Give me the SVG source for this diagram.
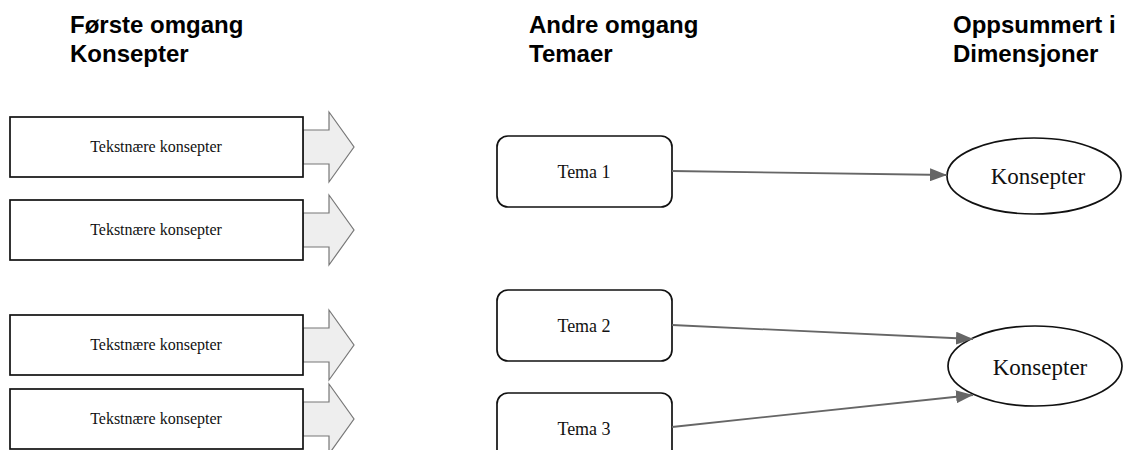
<svg xmlns="http://www.w3.org/2000/svg" width="1123" height="450" viewBox="0 0 1123 450">
<style>
.hdr{font-family:"Liberation Sans",Arial,sans-serif;font-weight:bold;font-size:24px;fill:#000}
.box{fill:#fff;stroke:#111;stroke-width:1.7}
.blk{fill:#eeeeee;stroke:#777;stroke-width:1.2}
.t16{font-family:"Liberation Serif","Times New Roman",serif;font-size:16px;fill:#111;text-anchor:middle}
.t18{font-family:"Liberation Serif","Times New Roman",serif;font-size:18px;fill:#111;text-anchor:middle}
.t23{font-family:"Liberation Serif","Times New Roman",serif;font-size:23px;fill:#111;text-anchor:middle}
.edge{stroke:#666;stroke-width:1.8;fill:none;marker-end:url(#ah)}
</style>
<defs>
<marker id="ah" markerWidth="17" markerHeight="13" refX="17" refY="6.5" orient="auto" markerUnits="userSpaceOnUse">
<path d="M0,0 L17,6.5 L0,13 z" fill="#666"/>
</marker>
</defs>
<rect width="1123" height="450" fill="#fff"/>
<g id="headers">
<text class="hdr" x="70" y="33">Første omgang</text>
<text class="hdr" x="70" y="62">Konsepter</text>
<text class="hdr" x="529" y="33">Andre omgang</text>
<text class="hdr" x="529" y="62">Temaer</text>
<text class="hdr" x="953" y="33">Oppsummert i</text>
<text class="hdr" x="953" y="62">Dimensjoner</text>
</g>
<g id="konsept1">
<polygon class="blk" points="303,130 329,130 329,112 354,147 329,182 329,164 303,164"/>
<rect class="box" x="10" y="117" width="293" height="60"/>
<text class="t16" x="156" y="152">Tekstnære konsepter</text>
</g>
<g id="konsept2">
<polygon class="blk" points="303,213 329,213 329,195 354,230 329,265 329,247 303,247"/>
<rect class="box" x="10" y="200" width="293" height="60"/>
<text class="t16" x="156" y="235">Tekstnære konsepter</text>
</g>
<g id="konsept3">
<polygon class="blk" points="303,328 329,328 329,310 354,345 329,380 329,362 303,362"/>
<rect class="box" x="10" y="315" width="293" height="60"/>
<text class="t16" x="156" y="350">Tekstnære konsepter</text>
</g>
<g id="konsept4">
<polygon class="blk" points="303,402 329,402 329,384 354,419 329,454 329,436 303,436"/>
<rect class="box" x="10" y="389" width="293" height="60"/>
<text class="t16" x="156" y="424">Tekstnære konsepter</text>
</g>
<g id="tema1">
<rect class="box" x="497" y="136" width="175" height="71" rx="11"/>
<text class="t18" x="584" y="178">Tema 1</text>
</g>
<g id="tema2">
<rect class="box" x="497" y="290" width="175" height="71" rx="11"/>
<text class="t18" x="584" y="332">Tema 2</text>
</g>
<g id="tema3">
<rect class="box" x="497" y="393" width="175" height="71" rx="11"/>
<text class="t18" x="584" y="435">Tema 3</text>
</g>
<g id="dim1">
<ellipse class="box" cx="1034" cy="176" rx="87" ry="38"/>
<text class="t23" x="1038" y="184">Konsepter</text>
</g>
<g id="dim2">
<ellipse class="box" cx="1035" cy="366" rx="87" ry="40"/>
<text class="t23" x="1040" y="375">Konsepter</text>
</g>
<g id="connectors">
<line class="edge" x1="672" y1="171" x2="947" y2="175"/>
<line class="edge" x1="672" y1="325" x2="973" y2="339"/>
<line class="edge" x1="672" y1="427" x2="973" y2="395"/>
</g>
</svg>
